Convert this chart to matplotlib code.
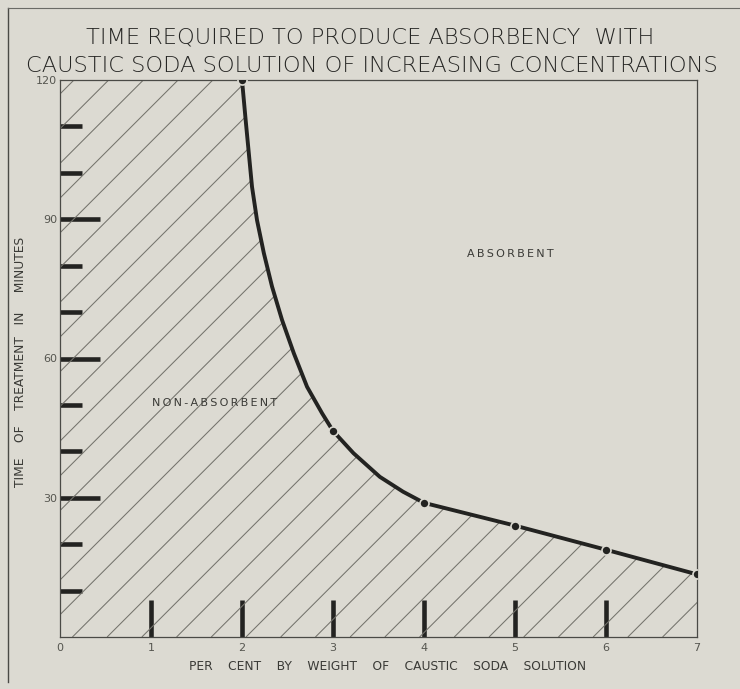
import numpy as np
import matplotlib
matplotlib.use("Agg")
import matplotlib.pyplot as plt
from matplotlib.patches import Polygon
from matplotlib.collections import LineCollection

# measured points (per cent caustic soda, minutes)
conc = [2, 3, 4, 5, 6, 7]
minutes = [120, 44.4, 28.9, 24, 18.8, 13.5]

# points
curve_x = [2.0, 2.04, 2.075, 2.11, 2.165, 2.24, 2.33, 2.44, 2.57, 2.715,
           2.88, 3.0, 3.225, 3.515, 3.77, 4.0, 5.0, 6.0, 7.0]
curve_y = [120, 111.4, 104.2, 97.0, 89.8, 82.7, 75.5, 68.3, 61.1, 53.9,
           48.2, 44.4, 39.6, 34.5, 31.3, 28.9, 24, 18.8, 13.5]

x_ticks = [0, 1, 2, 3, 4, 5, 6, 7]
y_major = [30, 60, 90, 120]
y_minor = [10, 20, 40, 50, 70, 80, 100, 110]

bg = "#dcdad2"
ink = "#232321"
grey = "#55554f"


def spaced(s):
    return "\u2009".join(s)


fig = plt.figure(figsize=(7.4, 6.89), dpi=100, facecolor=bg)
ax = fig.add_axes([60 / 740, 52 / 689, 637 / 740, 557 / 689])
ax.set_facecolor(bg)
ax.set_xlim(0, 7)
ax.set_ylim(0, 120)

# hatched non-absorbent region
poly_pts = [(0, 0), (0, 120)] + list(zip(curve_x, curve_y)) + [(7, 0)]
region = Polygon(poly_pts, closed=True, facecolor="none", edgecolor="none",
                 transform=ax.transData)
ax.add_patch(region)
w, h = 637.0, 557.0
segs = []
for c in np.arange(-1.0 + 0.311 % 0.0545, 1.0, 0.0545):
    segs.append([(c, 0), (c + h / w, 1)])
hatch = LineCollection(segs, colors="#74736c", linewidths=0.75,
                       transform=ax.transAxes)
ax.add_collection(hatch)
hatch.set_clip_path(region)

# boundary curve
ax.plot(curve_x, curve_y, color=ink, lw=2.8, solid_capstyle="round",
        solid_joinstyle="round", zorder=3)
ax.plot(conc, minutes, "o", color=ink, ms=6.5, mec=bg, mew=1.2, zorder=4)

# axes styling
for s in ax.spines.values():
    s.set_color("#4a4a46")
    s.set_linewidth(0.9)

ax.set_xticks(x_ticks)
ax.set_xticklabels([str(v) for v in x_ticks])
ax.set_yticks(y_major)
ax.set_yticklabels([str(v) for v in y_major])
ax.set_yticks(y_minor, minor=True)
ax.tick_params(axis="x", direction="in", length=27, width=3.3, color=ink,
               labelsize=8, labelcolor=grey, pad=4)
ax.tick_params(axis="y", which="major", direction="in", length=29, width=3.3,
               color=ink, labelsize=8, labelcolor=grey, pad=2)
ax.tick_params(axis="y", which="minor", direction="in", length=16, width=3.3,
               color=ink)
for i in (0, len(x_ticks) - 1):
    ax.xaxis.get_major_ticks()[i].tick1line.set_visible(False)
ax.yaxis.get_major_ticks()[-1].tick1line.set_visible(False)

ax.text(4.95, 82.5, spaced("ABSORBENT"), ha="center", va="center",
        fontsize=8, color="#3a3a36")
ax.text(1.70, 50.4, spaced("NON-ABSORBENT"), ha="center", va="center",
        fontsize=8, color="#3a3a36")

fig.text(370 / 740, 1 - 37 / 689, "TIME REQUIRED TO PRODUCE ABSORBENCY  WITH",
         ha="center", va="center", fontsize=16.2, color="#262624",
         fontweight="light")
fig.text(372 / 740, 1 - 66 / 689,
         "CAUSTIC SODA SOLUTION OF INCREASING CONCENTRATIONS",
         ha="center", va="center", fontsize=16.2, color="#262624",
         fontweight="light")
fig.text(21 / 740, 1 - 362 / 689,
         "TIME    OF    TREATMENT   IN     MINUTES",
         rotation=90, ha="center", va="center", fontsize=8.8, color="#3a3a36")
fig.text(388 / 740, 1 - 666 / 689,
         "PER    CENT    BY    WEIGHT    OF    CAUSTIC    SODA    SOLUTION",
         ha="center", va="center", fontsize=8.8, color="#3a3a36")

# outer frame of the plate
fig.add_artist(plt.Line2D([8 / 740, 8 / 740], [0.01, 1 - 8 / 689],
                          transform=fig.transFigure, color="#4a4a46", lw=1))
fig.add_artist(plt.Line2D([8 / 740, 1.0], [1 - 8 / 689, 1 - 8 / 689],
                          transform=fig.transFigure, color="#6a6a66", lw=0.8))

fig.savefig("out.png", dpi=100, facecolor=bg)
